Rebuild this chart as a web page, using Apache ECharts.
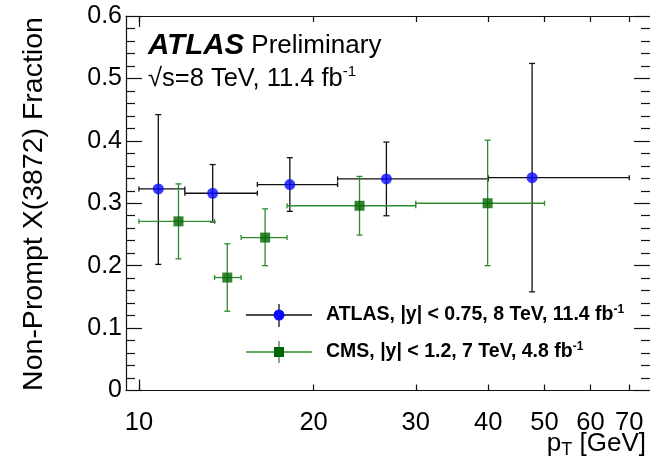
<!DOCTYPE html>
<html><head><meta charset="utf-8">
<script src="https://cdn.jsdelivr.net/npm/echarts@6/dist/echarts.min.js"></script>
<style>html,body{margin:0;padding:0;background:#fff}#c{width:650px;height:472px}</style>
</head><body><div id="c"></div>
<script>
// ---- data ----
const xTickValues = [10, 20, 30, 40, 50, 60, 70];
const xDecadeTicks = [10];
const yTickValues = [0, 0.1, 0.2, 0.3, 0.4, 0.5, 0.6];

const atlasPt   = [10.8, 13.4, 18.2, 26.7, 47.6];
const atlasVal  = [0.323, 0.316, 0.330, 0.339, 0.341];
const atlasPtLo = [10, 12, 16, 22, 40];
const atlasPtHi = [12, 16, 22, 40, 70];
const atlasLo   = [0.202, 0.270, 0.287, 0.280, 0.158];
const atlasHi   = [0.442, 0.362, 0.373, 0.398, 0.524];

const cmsPt   = [11.7, 14.2, 16.5, 24.0, 39.9];
const cmsVal  = [0.271, 0.181, 0.245, 0.296, 0.300];
const cmsPtLo = [10, 13.5, 15, 18, 30];
const cmsPtHi = [13.5, 15, 18, 30, 50];
const cmsLo   = [0.211, 0.127, 0.200, 0.249, 0.200];
const cmsHi   = [0.331, 0.235, 0.291, 0.343, 0.401];

const FONT = "'Liberation Sans', Arial, sans-serif";
const chart = echarts.init(document.getElementById('c'), null, {renderer: 'canvas'});

function errSeries(name, px, v, plo, phi, lo, hi, color, z) {
  return {
    name: name, type: 'custom', xAxisIndex: 0, yAxisIndex: 0, z: z,
    data: px.map((x, i) => [x, v[i], plo[i], phi[i], lo[i], hi[i]]),
    encode: {x: [0, 2, 3], y: [1, 4, 5]},
    renderItem: function (params, api) {
      const c = api.coord([api.value(0), api.value(1)]);
      const l = api.coord([api.value(2), api.value(1)]);
      const r = api.coord([api.value(3), api.value(1)]);
      const lo = api.coord([api.value(0), api.value(4)]);
      const hi = api.coord([api.value(0), api.value(5)]);
      const st = {stroke: color, lineWidth: 1.3};
      const cap = 3, capH = 2.5;
      return {type: 'group', children: [
        {type: 'line', shape: {x1: l[0], y1: c[1], x2: r[0], y2: c[1]}, style: st},
        {type: 'line', shape: {x1: l[0], y1: c[1] - capH, x2: l[0], y2: c[1] + capH}, style: st},
        {type: 'line', shape: {x1: r[0], y1: c[1] - capH, x2: r[0], y2: c[1] + capH}, style: st},
        {type: 'line', shape: {x1: c[0], y1: lo[1], x2: c[0], y2: hi[1]}, style: st},
        {type: 'line', shape: {x1: c[0] - cap, y1: lo[1], x2: c[0] + cap, y2: lo[1]}, style: st},
        {type: 'line', shape: {x1: c[0] - cap, y1: hi[1], x2: c[0] + cap, y2: hi[1]}, style: st}
      ]};
    }
  };
}

const xMin = 9.5, xMax = 76;
const axisLineStyle = {color: '#111', width: 1.2};

const option = {
  animation: false,
  backgroundColor: '#fff',
  grid: {left: 126, top: 16, width: 524, height: 374.5, containLabel: false},
  xAxis: [
    {type: 'log', logBase: 10, min: xMin, max: xMax, position: 'bottom',
     axisLine: {show: true, lineStyle: axisLineStyle},
     axisTick: {show: true, inside: true, length: 6, customValues: xTickValues, lineStyle: {color: '#111', width: 1.2}},
     axisLabel: {show: true, customValues: xTickValues, fontFamily: FONT, fontSize: 25.5, color: '#000', margin: 19,
                 formatter: v => String(Math.round(v)), showMinLabel: true, showMaxLabel: true, hideOverlap: false},
     splitLine: {show: false}, minorTick: {show: false}},
    {type: 'log', logBase: 10, min: xMin, max: xMax, position: 'top',
     axisLine: {show: true, onZero: false, lineStyle: axisLineStyle},
     axisTick: {show: true, inside: true, length: 6, customValues: xTickValues, lineStyle: {color: '#111', width: 1.2}},
     axisLabel: {show: false}, splitLine: {show: false}},
    {type: 'log', logBase: 10, min: xMin, max: xMax, position: 'bottom',
     axisLine: {show: false},
     axisTick: {show: true, inside: true, length: 11, customValues: xDecadeTicks, lineStyle: {color: '#111', width: 1.2}},
     axisLabel: {show: false}, splitLine: {show: false}},
    {type: 'log', logBase: 10, min: xMin, max: xMax, position: 'top',
     axisLine: {show: false},
     axisTick: {show: true, inside: true, length: 11, customValues: xDecadeTicks, lineStyle: {color: '#111', width: 1.2}},
     axisLabel: {show: false}, splitLine: {show: false}}
  ],
  yAxis: [
    {type: 'value', min: 0, max: 0.6, interval: 0.1, position: 'left',
     axisLine: {show: true, onZero: false, lineStyle: axisLineStyle},
     axisTick: {show: true, inside: true, length: 16, lineStyle: {color: '#111', width: 1.2}},
     minorTick: {show: true, splitNumber: 5, length: 9, lineStyle: {color: '#111', width: 1.2}},
     axisLabel: {show: true, fontFamily: FONT, fontSize: 25, color: '#000', margin: 4,
                 customValues: yTickValues,
                 formatter: v => (Math.abs(v) < 1e-9 ? '0' : v.toFixed(1))},
     splitLine: {show: false}},
    {type: 'value', min: 0, max: 0.6, interval: 0.1, position: 'right',
     axisLine: {show: false},
     axisTick: {show: true, inside: true, length: 16, lineStyle: {color: '#111', width: 1.2}},
     minorTick: {show: true, splitNumber: 5, length: 9, lineStyle: {color: '#111', width: 1.2}},
     axisLabel: {show: false}, splitLine: {show: false}}
  ],
  series: [
    errSeries('ATLAS err', atlasPt, atlasVal, atlasPtLo, atlasPtHi, atlasLo, atlasHi, '#111', 2),
    errSeries('CMS err', cmsPt, cmsVal, cmsPtLo, cmsPtHi, cmsLo, cmsHi, '#2e8b2e', 3),
    {name: 'ATLAS', type: 'scatter', xAxisIndex: 0, yAxisIndex: 0, z: 5,
     symbol: 'circle', symbolSize: 11, itemStyle: {color: '#0a0aff'},
     data: atlasPt.map((x, i) => [x, atlasVal[i]])},
    {name: 'CMS', type: 'scatter', xAxisIndex: 0, yAxisIndex: 0, z: 5,
     symbol: 'rect', symbolSize: 10, itemStyle: {color: '#006400'},
     data: cmsPt.map((x, i) => [x, cmsVal[i]])}
  ],
  graphic: [
    {type: 'text', x: 34, y: 204, rotation: Math.PI / 2,
     style: {text: 'Non-Prompt X(3872) Fraction', font: '28.5px ' + FONT, fill: '#000', align: 'center', verticalAlign: 'middle'}},
    {type: 'text', x: 646, y: 444,
     style: {text: '{p|p}{sub|T}{p| [GeV]}', align: 'right', verticalAlign: 'middle',
             rich: {p: {font: '26px ' + FONT, fill: '#000'}, sub: {font: '18px ' + FONT, fill: '#000', padding: [12, 0, 0, 0]}}}},
    {type: 'text', x: 148, y: 46,
     style: {text: '{a|ATLAS}{b| Preliminary}', align: 'left', verticalAlign: 'middle',
             rich: {a: {font: 'italic bold 29.5px ' + FONT, fill: '#000'}, b: {font: '26px ' + FONT, fill: '#000'}}}},
    {type: 'text', x: 148, y: 79,
     style: {text: '{c|√s=8 TeV, 11.4 fb}{s|-1}', align: 'left', verticalAlign: 'middle',
             rich: {c: {font: '25.5px ' + FONT, fill: '#000'}, s: {font: '15px ' + FONT, fill: '#000', padding: [0, 0, 14, 0]}}}},
    // legend
    {type: 'line', shape: {x1: 246, y1: 315, x2: 312, y2: 315}, style: {stroke: '#111', lineWidth: 1.3}},
    {type: 'line', shape: {x1: 279, y1: 304, x2: 279, y2: 327}, style: {stroke: '#111', lineWidth: 1.3}},
    {type: 'circle', shape: {cx: 279, cy: 315, r: 5.5}, style: {fill: '#0a0aff'}},
    {type: 'text', x: 326, y: 315,
     style: {text: '{t|ATLAS, |y| < 0.75, 8 TeV, 11.4 fb}{s|-1}', align: 'left', verticalAlign: 'middle',
             rich: {t: {font: 'bold 19.5px ' + FONT, fill: '#000'}, s: {font: 'bold 12px ' + FONT, fill: '#000', padding: [0, 0, 10, 0]}}}},
    {type: 'line', shape: {x1: 246, y1: 352, x2: 312, y2: 352}, style: {stroke: '#2e8b2e', lineWidth: 1.3}},
    {type: 'line', shape: {x1: 279, y1: 341, x2: 279, y2: 363}, style: {stroke: '#2e8b2e', lineWidth: 1.3}},
    {type: 'rect', shape: {x: 274, y: 347, width: 10, height: 10}, style: {fill: '#006400'}},
    {type: 'text', x: 326, y: 352,
     style: {text: '{t|CMS, |y| < 1.2, 7 TeV, 4.8 fb}{s|-1}', align: 'left', verticalAlign: 'middle',
             rich: {t: {font: 'bold 19.5px ' + FONT, fill: '#000'}, s: {font: 'bold 12px ' + FONT, fill: '#000', padding: [0, 0, 10, 0]}}}}
  ]
};
chart.setOption(option);
</script>
</body></html>
